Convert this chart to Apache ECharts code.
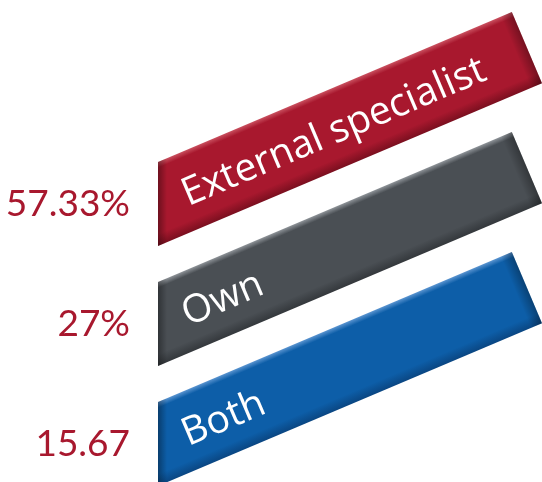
<!DOCTYPE html>
<html>
<head>
<meta charset="utf-8">
<style>
  html, body { margin: 0; padding: 0; background: #ffffff; }
  #chart { width: 542px; height: 482px; }
</style>
<script src="https://cdn.jsdelivr.net/npm/echarts@6/dist/echarts.min.js"></script>
</head>
<body>
<div id="chart"></div>
<script>
// Who handles the work: share of respondents per option
const categories = ['External specialist', 'Own', 'Both'];
const shares = [57.33, 27, 15.67];
const shareLabels = ['57.33%', '27%', '15.67'];

// Bar palette: [base, top highlight, bottom shade]
const palette = [
  ['#a8182e', '#c9505f', '#7a0f1f'],
  ['#4a4f54', '#8e9398', '#34383c'],
  ['#0d5ea8', '#5a94d0', '#0a4682']
];

const SCALE_MAX = 100;
const TILT = Math.atan(150 / 354); // slant of the ribbons

const chart = echarts.init(document.getElementById('chart'), null, { renderer: 'canvas' });

function renderRibbon(params, api) {
  const idx = api.value(0);
  const left = api.coord([0, idx]);
  const right = api.coord([SCALE_MAX, idx]);
  const band = api.size([0, 1])[1];
  const x0 = left[0], cy = left[1], xR = right[0];
  const h = band * 0.35;
  const s = Math.sin(TILT), c = Math.cos(TILT), t = Math.tan(TILT);
  const thick = 2 * h * c;

  const A = [x0, cy - h];
  const D = [x0, cy + h];
  const C = [xR, cy + h - (xR - x0) * t];
  const B = [xR - thick * s, C[1] - thick * c];
  const pts = [A, B, C, D];

  const col = palette[idx];
  // perpendicular gradient across the ribbon
  const mx = (A[0] + B[0]) / 2, my = (A[1] + B[1]) / 2;
  const across = {
    type: 'linear', global: true,
    x: mx, y: my, x2: mx + thick * s, y2: my + thick * c,
    colorStops: [
      { offset: 0, color: col[1] },
      { offset: 0.07, color: col[0] },
      { offset: 0.86, color: col[0] },
      { offset: 1, color: col[2] }
    ]
  };
  const leftShade = {
    type: 'linear', global: true,
    x: x0, y: 0, x2: x0 + 9, y2: 0,
    colorStops: [
      { offset: 0, color: 'rgba(0,0,0,0.35)' },
      { offset: 1, color: 'rgba(0,0,0,0)' }
    ]
  };
  const rightShade = {
    type: 'linear', global: true,
    x: B[0] - 12 * c, y: B[1] + 12 * s, x2: B[0], y2: B[1],
    colorStops: [
      { offset: 0, color: 'rgba(0,0,0,0)' },
      { offset: 1, color: 'rgba(0,0,0,0.3)' }
    ]
  };

  const tx = x0 + 26;
  const ty = cy - 26 * t + 3;

  return {
    type: 'group',
    children: [
      { type: 'polygon', shape: { points: pts }, style: { fill: across } },
      { type: 'polygon', shape: { points: pts }, style: { fill: leftShade } },
      { type: 'polygon', shape: { points: pts }, style: { fill: rightShade } },
      {
        type: 'text',
        x: tx, y: ty,
        rotation: TILT,
        style: {
          text: categories[idx],
          fill: '#ffffff',
          font: '39px "Open Sans", sans-serif',
          align: 'left',
          verticalAlign: 'middle'
        }
      }
    ]
  };
}

chart.setOption({
  animation: false,
  grid: { left: 158, right: 0, top: 144, height: 360, outerBoundsMode: 'none' },
  xAxis: {
    type: 'value', min: 0, max: SCALE_MAX,
    show: false
  },
  yAxis: {
    type: 'category',
    data: categories,
    inverse: true,
    axisLine: { show: false },
    axisTick: { show: false },
    splitLine: { show: false },
    axisLabel: {
      margin: 28,
      color: '#a8182e',
      fontFamily: 'Lato',
      fontSize: 37,
      formatter: (v, i) => shareLabels[i]
    }
  },
  series: [{
    type: 'custom',
    renderItem: renderRibbon,
    encode: { x: 1, y: 0 },
    data: shares.map((v, i) => [i, v])
  }]
});
</script>
</body>
</html>
